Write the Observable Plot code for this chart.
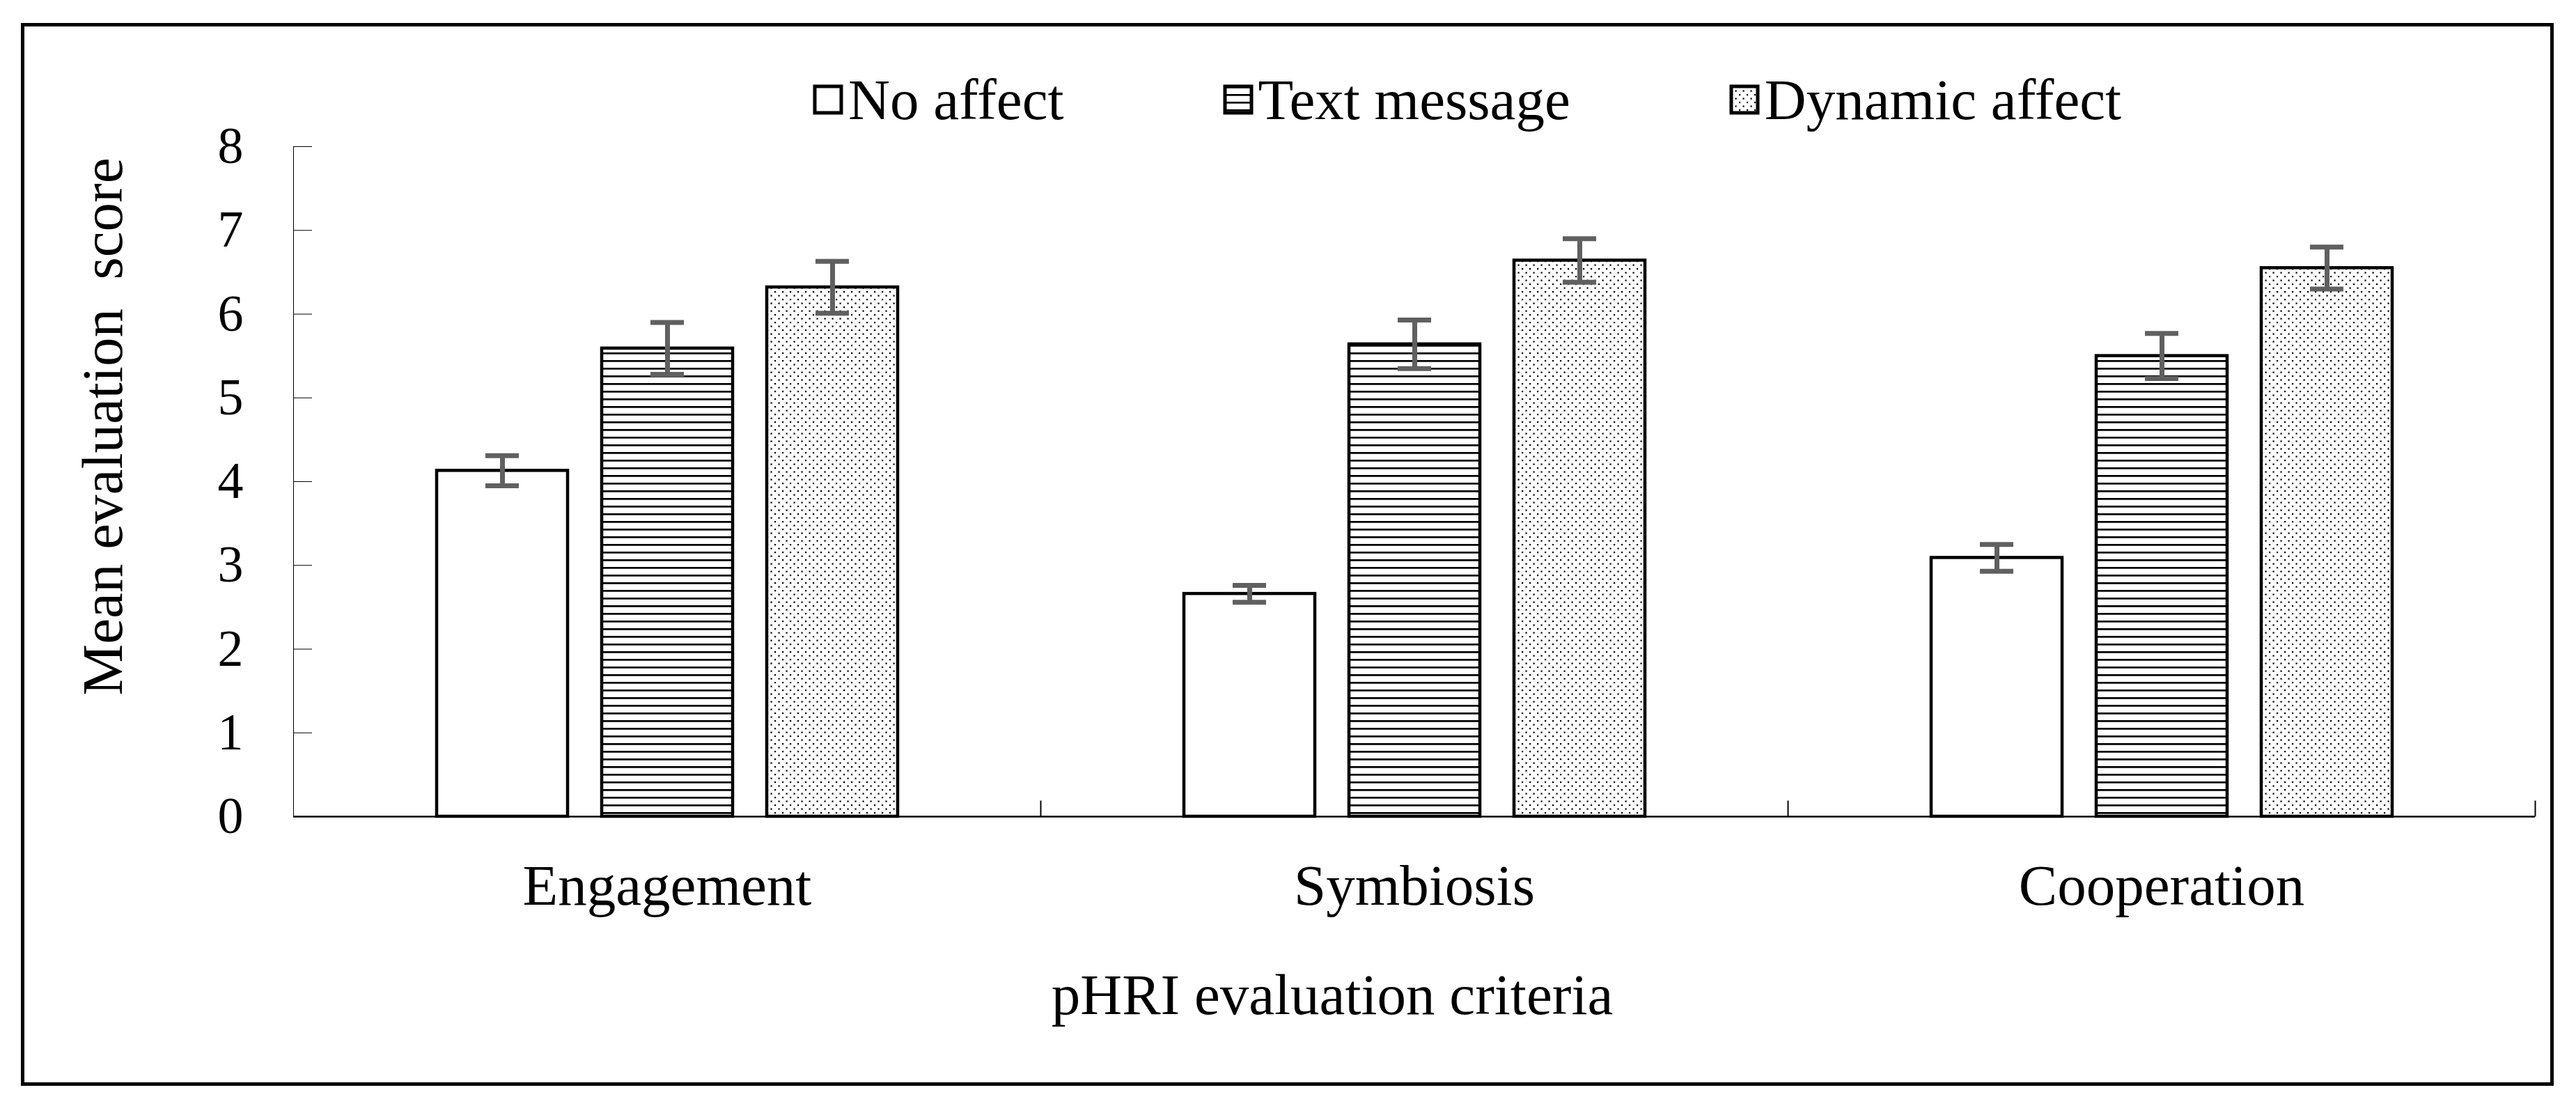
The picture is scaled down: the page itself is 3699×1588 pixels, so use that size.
<!DOCTYPE html>
<html>
<head>
<meta charset="utf-8">
<script src="https://cdn.jsdelivr.net/npm/d3@7"></script>
<script src="https://cdn.jsdelivr.net/npm/@observablehq/plot@0.6"></script>
<style>
  html, body { margin: 0; padding: 0; background: #fff; }
  #wrap { position: relative; width: 3699px; height: 1588px; overflow: hidden; font-family: "Liberation Serif", serif; }
  #border { position: absolute; left: 30px; top: 33px; width: 3627px; height: 1516px; border: 5px solid #000; pointer-events: none; }
  #chart { position: absolute; left: 0; top: 0; }
  #chart svg text { white-space: pre; }
  #chart [aria-label^="fx-axis"] text { font-size: 83px; }
  #legend { position: absolute; left: 1170px; top: 95px; }
  #legend .lg-swatch { margin-right: 231px !important; }
  #legend .lg-swatch > svg { overflow: visible; margin-right: 10px !important; }
  #legend .lg-swatch > svg rect { stroke: #000; stroke-width: 5px; }
</style>
</head>
<body>
<svg width="0" height="0" style="position:absolute">
  <defs>
    <pattern id="hatch" patternUnits="userSpaceOnUse" width="11" height="11">
      <rect width="11" height="11" fill="#fff"></rect>
      <rect y="0" width="11" height="2.7" fill="#000"></rect>
    </pattern>
    <pattern id="dots" patternUnits="userSpaceOnUse" width="11" height="11">
      <rect width="11" height="11" fill="#fff"></rect>
      <rect x="0" y="0" width="2.2" height="2.2" fill="#000"></rect>
      <rect x="5.5" y="5.5" width="2.2" height="2.2" fill="#000"></rect>
    </pattern>
  </defs>
</svg>
<div id="wrap">
  <div id="chart"></div>
  <div id="legend"></div>
  <div id="border"></div>
</div>
<script>
// ---- data ----
const categories = ["Engagement", "Symbiosis", "Cooperation"];
const series = ["No affect", "Text message", "Dynamic affect"];
const noAffect = [4.13, 2.66, 3.09];
const noAffectErr = [0.18, 0.10, 0.16];
const textMessage = [5.59, 5.64, 5.50];
const textMessageErr = [0.31, 0.29, 0.27];
const dynamicAffect = [6.32, 6.64, 6.55];
const dynamicAffectErr = [0.31, 0.26, 0.25];
const yTicks = [0, 1, 2, 3, 4, 5, 6, 7, 8];
const xTitle = "pHRI evaluation criteria";
const yTitle = "Mean evaluation  score";

// ---- table built from the arrays ----
const means = [noAffect, textMessage, dynamicAffect];
const errs = [noAffectErr, textMessageErr, dynamicAffectErr];
const rows = categories.flatMap((c, i) =>
  series.map((s, j) => ({category: c, series: s, value: means[j][i], err: errs[j][i]})));
const fills = ["#ffffff", "url(#hatch)", "url(#dots)"];
const errColor = "#606060";

// a short upward tick used at the category boundaries of the x axis
const boundaryTick = {draw(ctx) { ctx.moveTo(0, 0); ctx.lineTo(0, -23); }};

const chart = Plot.plot({
  width: 3699,
  height: 1588,
  marginLeft: 420,
  marginRight: 59,
  marginTop: 210,
  marginBottom: 416,
  style: {fontFamily: "'Liberation Serif', serif", fontSize: "74px", color: "#000", background: "transparent", overflow: "visible"},
  facet: {data: rows, x: "category"},
  fx: {domain: categories, padding: 0, label: null, tickSize: 0, tickPadding: 68},
  x: {domain: series, axis: null, paddingInner: 0.207, paddingOuter: 0.867},
  y: {domain: [0, 8], ticks: yTicks, tickSize: -27, tickPadding: 99, label: null, line: true},
  color: {domain: series, range: fills},
  marks: [
    Plot.barY(rows, {x: "series", y: "value", fill: "series", stroke: "#000", strokeWidth: 4.5}),
    Plot.ruleX(rows, {x: "series", y1: d => d.value - d.err, y2: d => d.value + d.err, stroke: errColor, strokeWidth: 7}),
    Plot.tickY(rows, {x: "series", y: d => d.value - d.err, stroke: errColor, strokeWidth: 7, inset: 70}),
    Plot.tickY(rows, {x: "series", y: d => d.value + d.err, stroke: errColor, strokeWidth: 7, inset: 70}),
    Plot.ruleY([0], {stroke: "#000", strokeWidth: 2.5}),
    Plot.dot([0], {frameAnchor: "bottom-right", symbol: boundaryTick, r: 1, stroke: "#000", strokeWidth: 2, fill: "none"}),
    Plot.text(rows, {filter: (d, i) => i === 0, text: () => yTitle, frameAnchor: "left", textAnchor: "middle", lineAnchor: "middle", rotate: -90, dx: -273, dy: -79, fontSize: 83, fill: "#000"}),
    Plot.text(rows, {filter: (d, i) => i === 0, text: () => xTitle, frameAnchor: "bottom", textAnchor: "middle", dx: 955, dy: 283, fontSize: 83, fill: "#000"})
  ]
});
document.getElementById("chart").appendChild(chart);

const legend = Plot.legend({
  color: {domain: series, range: fills},
  legend: "swatches",
  swatchSize: 38,
  className: "lg",
  style: {fontFamily: "'Liberation Serif', serif", fontSize: "83px", color: "#000"}
});
document.getElementById("legend").appendChild(legend);
</script>
</body>
</html>
